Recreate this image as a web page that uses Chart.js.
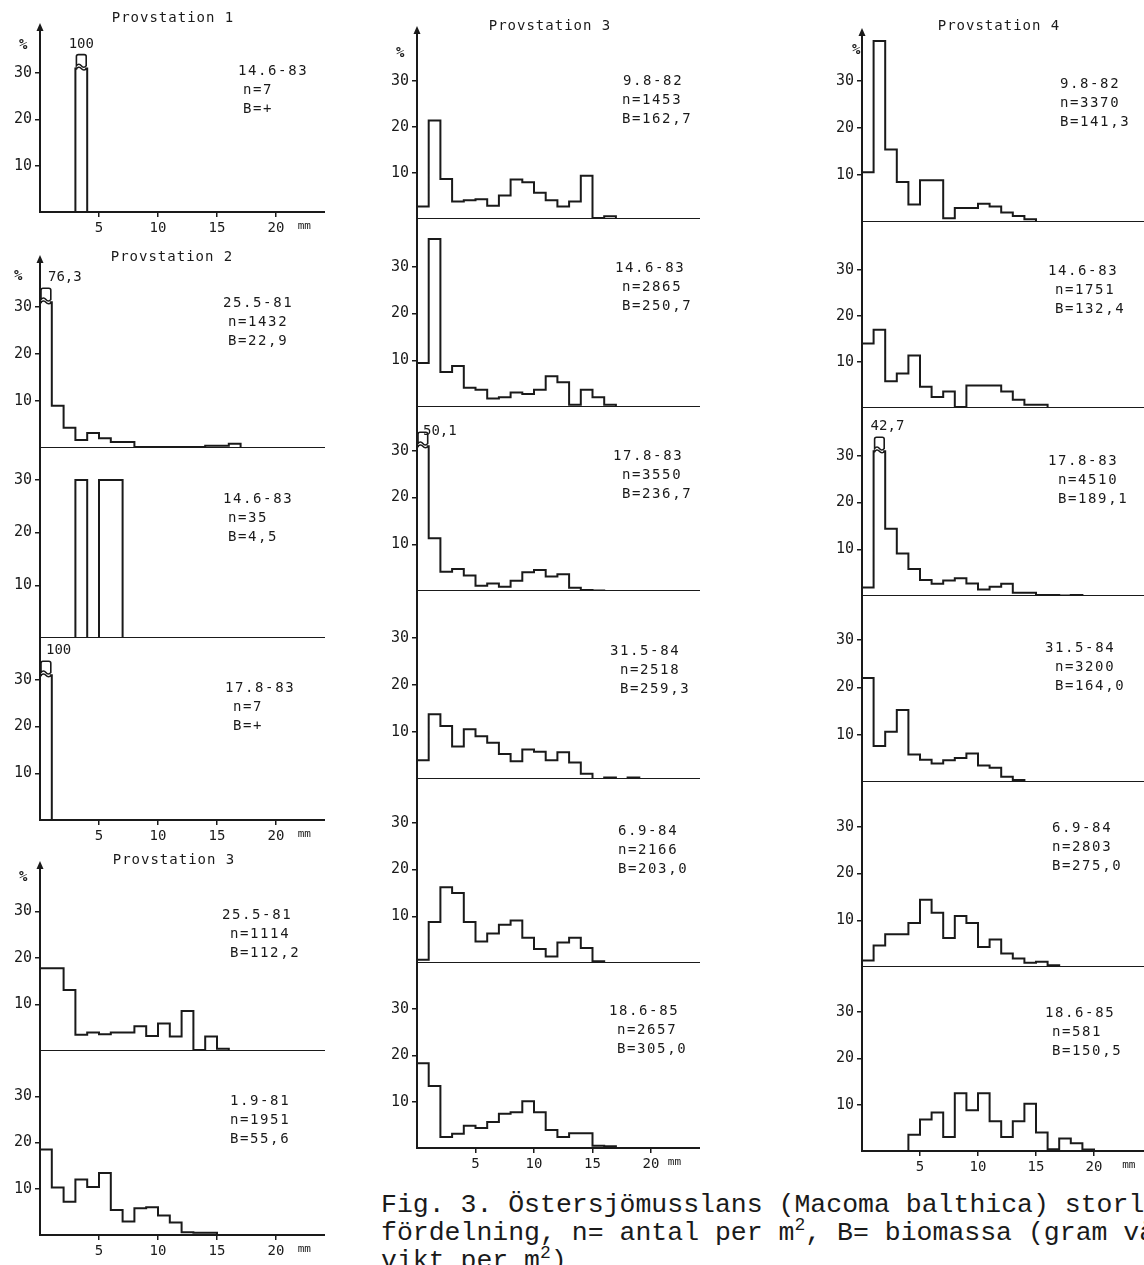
<!DOCTYPE html>
<html>
<head>
<meta charset="utf-8">
<script src="https://cdn.jsdelivr.net/npm/chart.js@4.4.1/dist/chart.umd.min.js"></script>
<style>
  html, body { margin: 0; padding: 0; background: #fff; }
  body { width: 1144px; height: 1265px; position: relative; overflow: hidden; color: #1a1a1a;
         font-family: "DejaVu Sans Mono", monospace; }
  .pn { position: absolute; }
  .pn canvas { display: block; }
  .tt { position: absolute; font-size: 14px; letter-spacing: 1px; white-space: nowrap; transform: translate(-50%, -50%); }
  .st { position: absolute; font-size: 14px; line-height: 18px; letter-spacing: 1.6px; white-space: nowrap; }
  .pc { position: absolute; font-size: 14px; font-weight: bold; }
  .cap { position: absolute; font-family: "Liberation Mono", monospace; font-size: 26.5px;
         line-height: 28px; white-space: nowrap; }
  .cap sup { font-size: 18px; line-height: 0; }
</style>
</head>
<body>
<script>
/* ---------- data: % per 1 mm size class (class k = k..k+1 mm) ---------- */
const st1_140683 = [0, 0, 0, 100];
const st2_250581 = [76.3, 9.0, 4.3, 1.7, 3.2, 2.1, 1.3, 1.3, 0.2, 0.2, 0.2, 0.2, 0.2, 0.2, 0.5, 0.5, 0.9];
const st2_140683 = [0, 0, 0, 30, 0, 30, 30];
const st2_170883 = [100];
const st3_250581 = [17.8, 17.8, 13.1, 3.5, 4.0, 3.6, 4.0, 4.0, 5.3, 3.2, 5.9, 3.1, 8.6, 0.2, 3.1, 0.5];
const st3_010981 = [18.5, 10.3, 7.2, 12.0, 10.4, 13.4, 5.4, 2.9, 5.8, 6.0, 4.2, 2.7, 0.6, 0.5, 0.5];
const st3_090882 = [2.7, 21.4, 8.7, 3.8, 4.1, 4.3, 2.9, 5.1, 8.6, 8.0, 5.7, 4.1, 2.7, 3.8, 9.4, 0.2, 0.6];
const st3_140683 = [9.4, 36.0, 7.5, 8.8, 4.1, 3.7, 1.8, 2.1, 3.1, 2.8, 3.7, 6.6, 5.3, 0.5, 3.7, 2.1, 0.5];
const st3_170883 = [50.1, 11.3, 4.1, 4.7, 3.3, 1.1, 1.6, 0.9, 2.2, 4.0, 4.5, 3.1, 3.6, 0.7, 0.2, 0.1];
const st3_310584 = [4.0, 13.8, 11.3, 6.9, 10.6, 9.1, 7.7, 5.3, 3.8, 6.3, 5.8, 4.0, 5.7, 3.5, 1.1, 0, 0.3, 0, 0.3];
const st3_060984 = [0.7, 8.8, 16.2, 15.0, 8.8, 4.6, 6.3, 8.2, 9.1, 5.4, 3.0, 1.4, 4.4, 5.4, 3.2, 0.4];
const st3_180685 = [18.3, 13.4, 2.4, 3.1, 4.8, 4.3, 5.6, 7.4, 7.7, 10.1, 7.7, 3.9, 2.4, 3.2, 3.2, 0.5, 0.4];
const st4_090882 = [10.6, 38.5, 15.4, 8.5, 3.7, 8.9, 8.9, 0.8, 3.0, 3.0, 3.9, 3.3, 2.0, 1.3, 0.6];
const st4_140683 = [14.0, 17.0, 5.8, 7.5, 11.4, 4.6, 2.4, 3.6, 0.2, 4.9, 4.9, 4.9, 3.6, 1.8, 0.7, 0.7];
const st4_170883 = [1.8, 42.7, 14.4, 9.1, 5.8, 3.4, 2.6, 3.3, 3.8, 2.7, 1.4, 2.0, 2.6, 0.7, 0.7, 0.2, 0.2, 0.1, 0.2];
const st4_310584 = [22.0, 7.6, 10.6, 15.2, 5.8, 4.7, 3.9, 4.6, 5.1, 6.0, 3.5, 3.0, 1.1, 0.4];
const st4_060984 = [1.4, 4.6, 7.0, 7.0, 9.4, 14.4, 11.6, 6.2, 10.9, 9.4, 4.3, 5.9, 2.9, 1.8, 0.9, 1.1, 0.4];
const st4_180685 = [0, 0, 0, 0, 3.5, 6.8, 8.3, 3.0, 12.5, 8.8, 12.5, 6.4, 3.0, 6.4, 10.2, 4.0, 0.4, 2.7, 1.7, 0.3];

const Y_TICKS = [10, 20, 30];
const X_TICKS = [5, 10, 15, 20];
const X_UNIT = "mm";
const Y_UNIT = "%";

const stationTitles = ["Provstation 1", "Provstation 2", "Provstation 3", "Provstation 3", "Provstation 4"];
const sampleDates = ["14.6-83", "25.5-81", "14.6-83", "17.8-83", "25.5-81", "1.9-81",
                     "9.8-82", "14.6-83", "17.8-83", "31.5-84", "6.9-84", "18.6-85",
                     "9.8-82", "14.6-83", "17.8-83", "31.5-84", "6.9-84", "18.6-85"];
const nPerM2 = ["n=7", "n=1432", "n=35", "n=7", "n=1114", "n=1951",
                "n=1453", "n=2865", "n=3550", "n=2518", "n=2166", "n=2657",
                "n=3370", "n=1751", "n=4510", "n=3200", "n=2803", "n=581"];
const biomass = ["B=+", "B=22,9", "B=4,5", "B=+", "B=112,2", "B=55,6",
                 "B=162,7", "B=250,7", "B=236,7", "B=259,3", "B=203,0", "B=305,0",
                 "B=141,3", "B=132,4", "B=189,1", "B=164,0", "B=275,0", "B=150,5"];

/* ---------- layout ---------- */
const INK = "#1a1a1a";
const FONT = "DejaVu Sans Mono";
const BREAK_AT = 40;     // classes above this get a broken bar
const CAP = 31;          // broken bars are drawn up to here
const YW = 42;           // y axis box width

const COLS = [
  { axisX: 40,  endX: 325,  pxmm: 11.8, mmAt: 22.4 },
  { axisX: 417, endX: 700,  pxmm: 11.7, mmAt: 22.0 },
  { axisX: 862, endX: 1144, pxmm: 11.6, mmAt: 23.0 }
];

const series = [st1_140683, st2_250581, st2_140683, st2_170883, st3_250581, st3_010981,
                st3_090882, st3_140683, st3_170883, st3_310584, st3_060984, st3_180685,
                st4_090882, st4_140683, st4_170883, st4_310584, st4_060984, st4_180685];

const PANELS = [
  { col: 0, top: 30,  base: 212,  pxu: 4.63, showX: true, arrow: true, sx: 238, sy: 70, dx: 5, pct: [24, 45], lab: "c" },
  { col: 0, top: 262, base: 448,  pxu: 4.7,  arrow: true, sx: 223, sy: 302, dx: 5, pct: [19, 276], lab: "l", ldx: 7 },
  { col: 0, top: 448, base: 638,  pxu: 5.27, sx: 223, sy: 498, dx: 5 },
  { col: 0, top: 638, base: 820,  pxu: 4.67, showX: true, sx: 225, sy: 687, dx: 8, lab: "l", ldx: 5 },
  { col: 0, top: 868, base: 1051, pxu: 4.65, arrow: true, sx: 222, sy: 914, dx: 8, pct: [24, 877] },
  { col: 0, top: 1051, base: 1235, pxu: 4.62, showX: true, sx: 230, sy: 1100, dx: 0 },
  { col: 1, top: 33,  base: 219,  pxu: 4.6,  arrow: true, sx: 623, sy: 80, dx: -1, pct: [401, 53] },
  { col: 1, top: 219, base: 407,  pxu: 4.67, sx: 615, sy: 267, dx: 7 },
  { col: 1, top: 407, base: 591,  pxu: 4.67, sx: 613, sy: 455, dx: 9, lab: "r" },
  { col: 1, top: 591, base: 779,  pxu: 4.7,  sx: 610, sy: 650, dx: 10 },
  { col: 1, top: 779, base: 963,  pxu: 4.67, sx: 618, sy: 830, dx: 0 },
  { col: 1, top: 963, base: 1148, pxu: 4.63, showX: true, sx: 609, sy: 1010, dx: 8 },
  { col: 2, top: 35,  base: 222,  pxu: 4.7,  arrow: true, sx: 1060, sy: 83, dx: 0, pct: [857, 50] },
  { col: 2, top: 222, base: 408,  pxu: 4.6,  sx: 1048, sy: 270, dx: 7 },
  { col: 2, top: 408, base: 596,  pxu: 4.67, sx: 1048, sy: 460, dx: 10, lab: "l", ldx: -4 },
  { col: 2, top: 596, base: 782,  pxu: 4.73, sx: 1045, sy: 647, dx: 10 },
  { col: 2, top: 782, base: 967,  pxu: 4.67, sx: 1052, sy: 827, dx: 0 },
  { col: 2, top: 967, base: 1151, pxu: 4.63, showX: true, sx: 1045, sy: 1012, dx: 7 }
];

const TITLES = [[173, 17], [172, 256], [174, 859], [550, 25], [999, 25]];

/* ---------- decorations: axis arrow and broken bars ---------- */
const decor = {
  id: "decor",
  afterDatasetsDraw(chart, args, o) {
    const { ctx, chartArea: ca, scales: { x, y } } = chart;
    ctx.save();
    ctx.strokeStyle = INK; ctx.fillStyle = INK; ctx.lineWidth = 1.6;
    if (o.arrow) {
      ctx.beginPath();
      ctx.moveTo(ca.left, ca.top - 7);
      ctx.lineTo(ca.left - 3.5, ca.top + 1);
      ctx.lineTo(ca.left + 3.5, ca.top + 1);
      ctx.closePath(); ctx.fill();
    }
    o.values.forEach((v, k) => {
      if (v <= BREAK_AT) return;
      const x0 = x.getPixelForValue(k) + 1, x1 = x.getPixelForValue(k + 1) - 1;
      const xm = (x0 + x1) / 2;
      const yc = y.getPixelForValue(CAP);
      const yb = y.getPixelForValue(CAP + 0.6), yt = y.getPixelForValue(CAP + 3);
      // wavy cut on top of the bar
      ctx.fillStyle = "#fff";
      ctx.fillRect(x0 + 1, yc - 2, x1 - x0 - 2, 4);
      ctx.fillStyle = INK;
      ctx.beginPath();
      ctx.moveTo(x0 - 1, yc + 1);
      ctx.quadraticCurveTo((x0 + xm) / 2, yc - 3, xm, yc);
      ctx.quadraticCurveTo((xm + x1) / 2, yc + 3, x1 + 1, yc);
      ctx.stroke();
      // cap box
      ctx.beginPath();
      ctx.moveTo(x0, yb);
      ctx.quadraticCurveTo((x0 + xm) / 2, yb - 3, xm, yb);
      ctx.quadraticCurveTo((xm + x1) / 2, yb + 3, x1, yb);
      ctx.lineTo(x1, yt + 2);
      ctx.quadraticCurveTo(x1, yt, x1 - 2, yt);
      ctx.lineTo(x0 + 2, yt);
      ctx.quadraticCurveTo(x0, yt, x0, yt + 2);
      ctx.closePath();
      ctx.stroke();
      // value label
      const txt = v === 100 ? "100" : v.toFixed(1).replace(".", ",");
      ctx.font = "14px " + FONT;
      ctx.textBaseline = "middle";
      if (o.lab === "c") {
        ctx.textAlign = "center"; ctx.fillText(txt, xm, yt - 10);
      } else if (o.lab === "r") {
        ctx.textAlign = "left"; ctx.fillText(txt, x0 + 5, yt - 1);
      } else {
        ctx.textAlign = "left"; ctx.fillText(txt, x0 + (o.ldx || 0), yt - 11);
      }
    });
    ctx.restore();
  }
};

function addDiv(cls, x, y, html) {
  const d = document.createElement("div");
  d.className = cls;
  d.style.left = x + "px"; d.style.top = y + "px";
  d.innerHTML = html;
  document.body.appendChild(d);
  return d;
}

PANELS.forEach((p, i) => {
  const col = COLS[p.col];
  const vals = series[i];
  const padTop = p.arrow ? 9 : 0;
  const XH = p.showX ? 28 : 0;
  const left = col.axisX - YW;
  const w = col.endX - left;
  const h = (p.base - p.top) + padTop + XH;

  const box = document.createElement("div");
  box.className = "pn";
  box.style.left = left + "px";
  box.style.top = (p.top - padTop) + "px";
  const cv = document.createElement("canvas");
  cv.width = w; cv.height = h;
  box.appendChild(cv);
  document.body.appendChild(box);

  const pts = vals.map((v, k) => ({ x: k, y: v > BREAK_AT ? CAP : v }));
  pts.push({ x: vals.length, y: 0 });

  new Chart(cv, {
    type: "line",
    data: { datasets: [{ data: pts, stepped: true, borderColor: INK, borderWidth: 2,
                         pointRadius: 0, fill: false }] },
    options: {
      responsive: false, animation: false, devicePixelRatio: 1,
      layout: { padding: { top: padTop, right: 0, bottom: 0, left: 0 } },
      plugins: { legend: { display: false }, tooltip: { enabled: false },
                 decor: { values: vals, arrow: !!p.arrow, lab: p.lab, ldx: p.ldx } },
      scales: {
        x: {
          type: "linear", min: 0, max: (col.endX - col.axisX) / col.pxmm,
          afterBuildTicks: s => { s.ticks = X_TICKS.concat([col.mmAt]).map(v => ({ value: v })); },
          afterFit: s => { s.height = XH; s.paddingLeft = 0; s.paddingRight = 0; },
          ticks: {
            display: !!p.showX, autoSkip: false, maxRotation: 0, padding: 3, color: INK,
            font: c => ({ family: FONT, size: (c.tick && c.tick.value === col.mmAt) ? 11 : 14 }),
            callback: v => v === col.mmAt ? X_UNIT : String(v)
          },
          grid: { drawOnChartArea: false, drawTicks: !!p.showX, tickLength: 5, lineWidth: 1.5,
                  color: c => (c.tick && c.tick.value === col.mmAt) ? "rgba(0,0,0,0)" : INK },
          border: { display: true, color: INK, width: 2 }
        },
        y: {
          type: "linear", min: 0, max: (p.base - p.top) / p.pxu,
          afterBuildTicks: s => { s.ticks = Y_TICKS.map(v => ({ value: v })); },
          afterFit: s => { s.width = YW; s.paddingTop = 0; s.paddingBottom = 0; },
          ticks: { padding: 3, color: INK, font: { family: FONT, size: 15 } },
          grid: { drawOnChartArea: false, tickLength: 5, lineWidth: 1.5, color: INK },
          border: { display: true, color: INK, width: 2 }
        }
      }
    },
    plugins: [decor]
  });

  // sample text block
  addDiv("st", p.sx, p.sy - 9, sampleDates[i]);
  addDiv("st", p.sx + p.dx, p.sy + 10, nPerM2[i]);
  addDiv("st", p.sx + p.dx, p.sy + 29, biomass[i]);
  if (p.pct) addDiv("pc", p.pct[0] - 5, p.pct[1] - 9, Y_UNIT);
});

TITLES.forEach((t, i) => addDiv("tt", t[0], t[1], stationTitles[i]));

addDiv("cap", 381, 1191,
  "Fig. 3. Östersjömusslans (Macoma balthica) storleks-<br>" +
  "fördelning, n= antal per m<sup>2</sup>, B= biomassa (gram våt-<br>" +
  "vikt per m<sup>2</sup>)");
</script>
</body>
</html>
